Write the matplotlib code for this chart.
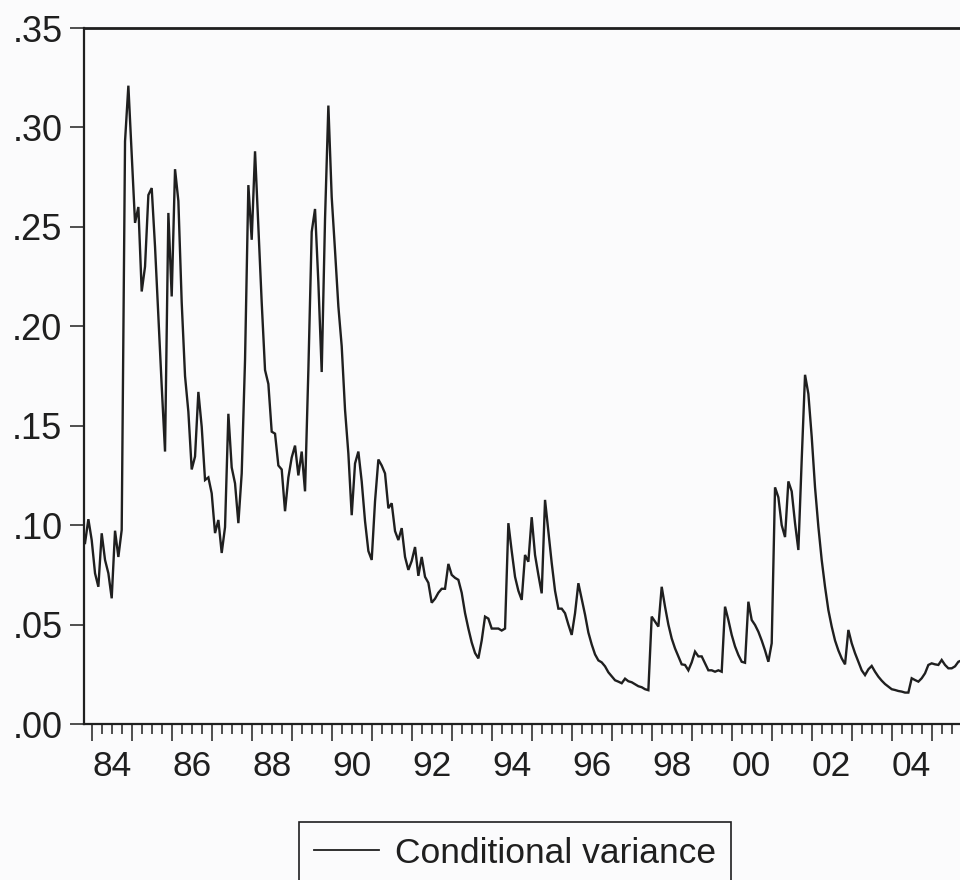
import matplotlib
matplotlib.use("Agg")
import matplotlib.pyplot as plt
import numpy as np

# ---- data (monthly conditional variance, starting 1983:11) ----
start_year, start_month = 1983, 11
cond_var = [
    0.091, 0.103, 0.0925, 0.0758, 0.069, 0.0959, 0.0825, 0.0758, 0.0632, 0.0972, 0.084, 0.0976,
    0.293, 0.321, 0.287, 0.252, 0.260, 0.2175, 0.230, 0.266, 0.2695, 0.240, 0.205, 0.170,
    0.137, 0.257, 0.215, 0.279, 0.263, 0.212, 0.175, 0.157, 0.128, 0.1345, 0.167, 0.1495,
    0.1227, 0.124, 0.116, 0.096, 0.1026, 0.086, 0.099, 0.156, 0.129, 0.121, 0.101, 0.126,
    0.183, 0.271, 0.2435, 0.288, 0.250, 0.212, 0.178, 0.171, 0.147, 0.146, 0.130, 0.128,
    0.107, 0.124, 0.134, 0.140, 0.125, 0.137, 0.117, 0.178, 0.2475, 0.259, 0.222, 0.177,
    0.254, 0.311, 0.265, 0.238, 0.210, 0.190, 0.158, 0.136, 0.105, 0.131, 0.137, 0.122,
    0.102, 0.087, 0.0825, 0.112, 0.133, 0.130, 0.126, 0.1085, 0.111, 0.097, 0.0925, 0.0985,
    0.084, 0.0775, 0.082, 0.089, 0.0745, 0.084, 0.074, 0.071, 0.061, 0.063, 0.066, 0.068,
    0.068, 0.0805, 0.075, 0.0735, 0.0725, 0.066, 0.0558, 0.048, 0.041, 0.0357, 0.033, 0.042,
    0.054, 0.053, 0.048, 0.048, 0.048, 0.047, 0.048, 0.101, 0.087, 0.074, 0.067, 0.0624,
    0.085, 0.0816, 0.104, 0.085, 0.075, 0.0657, 0.1127, 0.097, 0.081, 0.067, 0.058, 0.058,
    0.0557, 0.050, 0.0448, 0.0557, 0.0708, 0.063, 0.055, 0.046, 0.040, 0.035, 0.032, 0.031,
    0.029, 0.026, 0.024, 0.022, 0.0213, 0.0205, 0.0228, 0.0215, 0.021, 0.020, 0.019, 0.0185,
    0.0175, 0.017, 0.054, 0.0515, 0.049, 0.069, 0.059, 0.050, 0.043, 0.038, 0.034, 0.030,
    0.0297, 0.027, 0.031, 0.0364, 0.034, 0.034, 0.0305, 0.027, 0.027, 0.0263, 0.027, 0.0263,
    0.059, 0.0523, 0.0448, 0.039, 0.0347, 0.0313, 0.0308, 0.0615, 0.0523, 0.0498, 0.0464, 0.042,
    0.037, 0.0313, 0.0406, 0.119, 0.114, 0.100, 0.094, 0.122, 0.117, 0.101, 0.0875, 0.1328,
    0.1756, 0.166, 0.1445, 0.119, 0.0992, 0.0825, 0.069, 0.0573, 0.049, 0.042, 0.037, 0.033,
    0.030, 0.0473, 0.0406, 0.0356, 0.0313, 0.027, 0.0246, 0.0275, 0.0292, 0.0263, 0.0238, 0.0218,
    0.0201, 0.0188, 0.0175, 0.0171, 0.0166, 0.0163, 0.0158, 0.0158, 0.023, 0.0221, 0.0213, 0.023,
    0.0255, 0.0297, 0.0305, 0.030, 0.0297, 0.0322, 0.0297, 0.028, 0.028, 0.029, 0.0313, 0.032,
]
x_label_years = [1984, 1986, 1988, 1990, 1992, 1994, 1996, 1998, 2000, 2002, 2004]
x_labels = ["84", "86", "88", "90", "92", "94", "96", "98", "00", "02", "04"]
y_ticks = [0.00, 0.05, 0.10, 0.15, 0.20, 0.25, 0.30, 0.35]
y_labels = [".00", ".05", ".10", ".15", ".20", ".25", ".30", ".35"]
series_name = "Conditional variance"

# decimal-year position of each monthly observation
t = np.array([start_year + (start_month - 1 + i) / 12.0 for i in range(len(cond_var))])

plt.rcParams['font.family'] = ['Liberation Sans', 'DejaVu Sans']
ink = '#1f1f1f'
bg = '#fbfbfc'

fig = plt.figure(figsize=(9.6, 8.8), dpi=100, facecolor=bg)
W, H = 960.0, 880.0
left_px, right_px, top_px, bot_px = 84.0, 971.7, 28.0, 724.0
ax = fig.add_axes([left_px / W, 1 - bot_px / H, (right_px - left_px) / W, (bot_px - top_px) / H])
ax.set_facecolor(bg)

line, = ax.plot(t, cond_var, color=ink, lw=1.7, solid_joinstyle='miter', label=series_name)

ax.set_xlim(1983.8075, 2006.0)
ax.set_ylim(0, 0.35)

for s in ['top', 'left', 'bottom', 'right']:
    ax.spines[s].set_linewidth(1.6)
    ax.spines[s].set_color(ink)
ax.spines['top'].set_linewidth(2.0)

ax.set_yticks(y_ticks)
ax.set_yticklabels(y_labels)
ax.tick_params(axis='y', direction='out', length=10, width=1.1, pad=5.5,
               labelsize=26, colors=ink, right=False)

years = np.arange(1984, 2007)
ax.set_xticks(years)
ax.set_xticklabels([])
ax.set_xticks(np.arange(1984, 2006.01, 0.25), minor=True)
ax.tick_params(axis='x', which='major', direction='out', length=12.5, width=1.1, colors=ink, top=False)
ax.tick_params(axis='x', which='minor', direction='out', length=7, width=1.1, colors=ink, top=False)

sec = ax.secondary_xaxis('bottom')
sec.set_xticks([y + 0.5 for y in x_label_years])
sec.set_xticklabels(x_labels)
sec.tick_params(axis='x', length=0, pad=18.5, labelsize=25.5, colors=ink)
sec.spines['bottom'].set_visible(False)

leg = fig.legend(handles=[line], labels=[series_name], loc='upper center',
                 bbox_to_anchor=(515 / W, 1 - 821.7 / H), fontsize=25.5,
                 frameon=True, fancybox=False, edgecolor=ink, facecolor=bg, framealpha=1,
                 borderpad=0.42, handlelength=1.85, handletextpad=0.45, borderaxespad=0)
leg.get_frame().set_linewidth(1.2)
for txt in leg.get_texts():
    txt.set_color(ink)
leg.get_lines()[0].set_linewidth(1.3)

fig.savefig("out.png", dpi=100, facecolor=bg)
